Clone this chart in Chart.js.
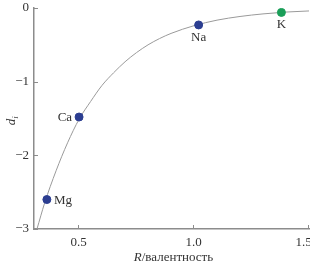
<!DOCTYPE html>
<html>
<head>
<meta charset="utf-8">
<script src="https://cdn.jsdelivr.net/npm/chart.js@4/dist/chart.umd.min.js"></script>
<style>
  html, body { margin: 0; padding: 0; background: #fff; }
  #wrap { width: 310px; height: 267px; }
</style>
</head>
<body>
<div id="wrap"><canvas id="chart" width="310" height="267"></canvas></div>
<script>
// fitted curve
const curveX = [0.317, 0.35, 0.40, 0.45, 0.50, 0.55, 0.60, 0.65, 0.70, 0.75, 0.80, 0.85, 0.90, 1.00, 1.10, 1.20, 1.30, 1.40, 1.50];
const curveY = [-3.0, -2.65, -2.21, -1.83, -1.51, -1.27, -1.05, -0.88, -0.73, -0.605, -0.50, -0.415, -0.345, -0.24, -0.165, -0.115, -0.08, -0.055, -0.04];

// elements
const elements = ['Mg', 'Ca', 'Na', 'K'];
const elemX = [0.36, 0.50, 1.02, 1.38];
const elemY = [-2.6, -1.48, -0.23, -0.06];
const elemColor = ['#2c3e91', '#2c3e91', '#2c3e91', '#1a9e58'];
const labelSide = ['right', 'left', 'below', 'below'];

const xTicks = [0.5, 1.0, 1.5];
const yTicks = [0, -1, -2, -3];

const FONT = '"Liberation Serif", "Times New Roman", Times, serif';
const TEXT = '#333';
const AXIS = '#8c8c8c';

const extras = {
  id: 'extras',
  afterDraw(chart) {
    const c = chart.ctx;
    const xs = chart.scales.x, ys = chart.scales.y;
    const a = chart.chartArea;
    c.save();
    // inward ticks + x tick labels
    c.strokeStyle = AXIS;
    c.lineWidth = 1;
    c.fillStyle = TEXT;
    c.font = '13px ' + FONT;
    c.textAlign = 'center';
    c.textBaseline = 'middle';
    xTicks.forEach(v => {
      const px = Math.round(xs.getPixelForValue(v)) - 0.5;
      c.beginPath(); c.moveTo(px, a.bottom); c.lineTo(px, a.bottom - 4); c.stroke();
      // last label sits a bit left, cut by the edge as in the original
      const lx = px > a.right - 3 ? px - 5 : px;
      c.fillText(v.toFixed(1), lx, 243);
    });
    yTicks.forEach(v => {
      const py = Math.round(ys.getPixelForValue(v)) + 0.5;
      c.beginPath(); c.moveTo(a.left, py); c.lineTo(a.left + 4, py); c.stroke();
    });

    // point labels
    elements.forEach((name, i) => {
      const px = xs.getPixelForValue(elemX[i]);
      const py = ys.getPixelForValue(elemY[i]);
      if (labelSide[i] === 'right') {
        c.textAlign = 'left'; c.textBaseline = 'middle';
        c.fillText(name, px + 7, py + 1);
      } else if (labelSide[i] === 'left') {
        c.textAlign = 'right'; c.textBaseline = 'middle';
        c.fillText(name, px - 7, py + 1);
      } else {
        c.textAlign = 'center'; c.textBaseline = 'top';
        c.fillText(name, px, py + 6);
      }
    });

    // x title: italic R + /валентность
    const p1 = 'R', p2 = '/валентность';
    c.textBaseline = 'middle';
    c.textAlign = 'left';
    c.font = 'italic 13px ' + FONT;
    const w1 = c.measureText(p1).width;
    c.font = '13px ' + FONT;
    const w2 = c.measureText(p2).width;
    const cx = (a.left + a.right) / 2 + 2;
    let sx = cx - (w1 + w2) / 2;
    c.font = 'italic 13px ' + FONT;
    c.fillText(p1, sx, 258);
    c.font = '13px ' + FONT;
    c.fillText(p2, sx + w1, 258);

    // y title: italic d with subscript i
    c.translate(12, 120);
    c.rotate(-Math.PI / 2);
    c.textAlign = 'left';
    c.font = 'italic 13px ' + FONT;
    const wd = c.measureText('d').width;
    c.fillText('d', -wd / 2 - 2, 0);
    c.font = 'italic 9px ' + FONT;
    c.fillText('i', wd / 2 - 2, 4);
    c.restore();
  }
};

new Chart(document.getElementById('chart'), {
  type: 'scatter',
  data: {
    datasets: [
      {
        type: 'line',
        data: curveX.map((x, i) => ({ x: x, y: curveY[i] })),
        borderColor: '#9a9a9a',
        borderWidth: 1,
        pointRadius: 0,
        tension: 0.4,
        cubicInterpolationMode: 'monotone',
        fill: false,
        order: 2
      },
      {
        data: elemX.map((x, i) => ({ x: x, y: elemY[i] })),
        backgroundColor: elemColor,
        borderColor: elemColor,
        pointRadius: 4,
        pointHoverRadius: 4,
        order: 1
      }
    ]
  },
  options: {
    responsive: false,
    animation: false,
    events: [],
    layout: { autoPadding: false, padding: { top: 8, right: 1, left: 0, bottom: 0 } },
    plugins: { legend: { display: false }, tooltip: { enabled: false } },
    scales: {
      x: {
        type: 'linear',
        min: 0.304,
        max: 1.5,
        afterBuildTicks: s => { s.ticks = xTicks.map(v => ({ value: v })); },
        afterFit: s => { s.height = 38; s.paddingLeft = 0; s.paddingRight = 0; },
        grid: { display: true, drawOnChartArea: false, drawTicks: false },
        border: { color: AXIS, width: 1.5 },
        ticks: { display: false }
      },
      y: {
        type: 'linear',
        min: -3,
        max: 0,
        afterBuildTicks: s => { s.ticks = yTicks.map(v => ({ value: v })); },
        afterFit: s => { s.width = 34; s.paddingTop = 0; s.paddingBottom = 0; },
        grid: { display: true, drawOnChartArea: false, drawTicks: false },
        border: { color: AXIS, width: 1.5 },
        ticks: {
          padding: 5,
          color: TEXT,
          font: { family: FONT, size: 13 },
          callback: v => (v < 0 ? '\u2212' + Math.abs(v) : String(v))
        }
      }
    }
  },
  plugins: [extras]
});
</script>
</body>
</html>
